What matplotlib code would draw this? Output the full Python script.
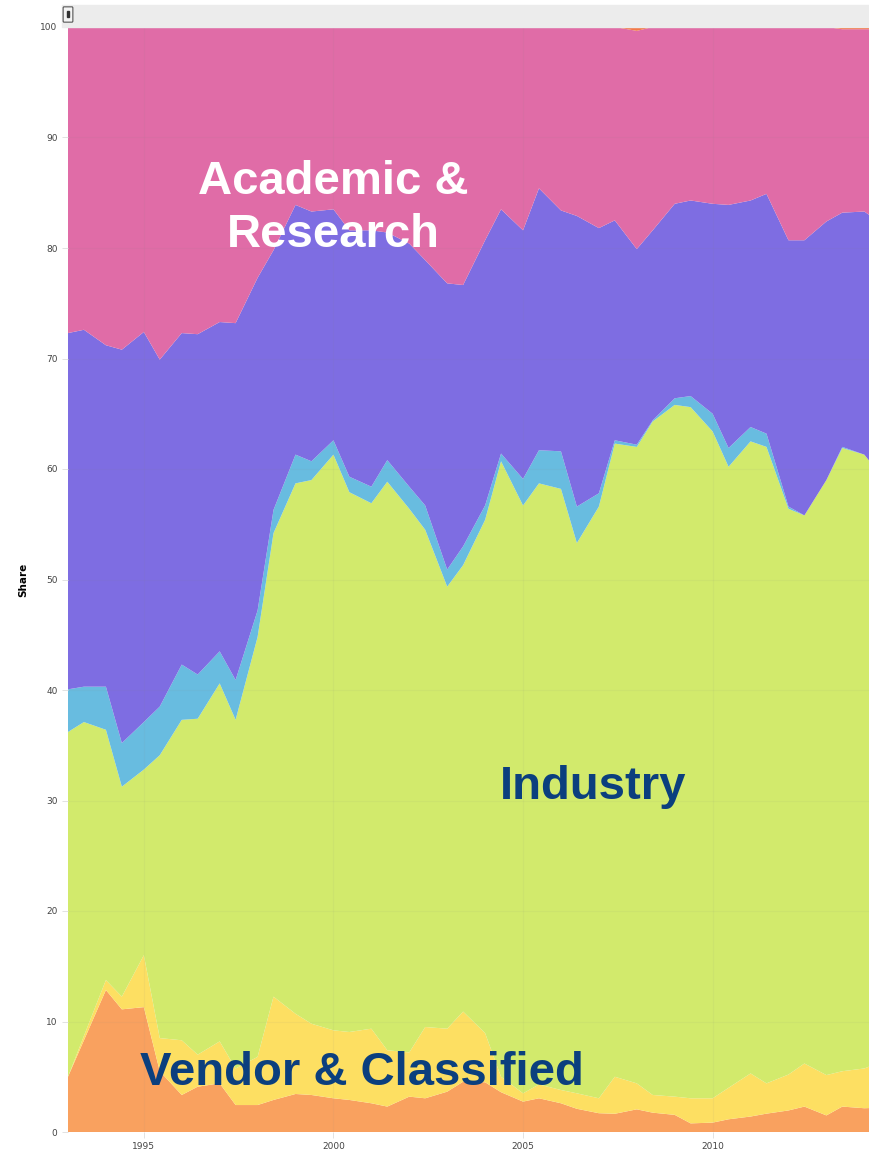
import matplotlib
matplotlib.use("Agg")
import matplotlib.pyplot as plt
from matplotlib.patches import Rectangle, FancyBboxPatch

# sample dates (Jan and Jun of every year)
dates = [1993.0, 1993.42, 1994.0, 1994.42, 1995.0, 1995.42, 1996.0, 1996.42,
         1997.0, 1997.42, 1998.0, 1998.42, 1999.0, 1999.42, 2000.0, 2000.42,
         2001.0, 2001.42, 2002.0, 2002.42, 2003.0, 2003.42, 2004.0, 2004.42,
         2005.0, 2005.42, 2006.0, 2006.42, 2007.0, 2007.42, 2008.0, 2008.42,
         2009.0, 2009.42, 2010.0, 2010.42, 2011.0, 2011.42, 2012.0, 2012.42,
         2013.0, 2013.42, 2014.0, 2014.42]

# cumulative upper edges (share, %)
vendor_top = [5.0, 8.3, 12.85, 11.1, 11.3, 5.5, 3.35, 4.1, 4.4, 2.44, 2.44, 2.9,
              3.44, 3.35, 3.05, 2.9, 2.6, 2.3, 3.2, 3.05, 3.65, 4.55, 4.5, 3.6,
              2.75, 3.05, 2.6, 2.1, 1.7, 1.65, 2.05, 1.75, 1.55, 0.78, 0.85, 1.15,
              1.4, 1.66, 1.95, 2.3, 1.5, 2.3, 2.15, 2.2]
classified_top = [5.0, 8.7, 13.75, 12.25, 16.0, 8.5, 8.3, 7.0, 8.2, 5.75, 6.8, 12.25,
                  10.7, 9.8, 9.2, 9.05, 9.35, 7.4, 7.2, 9.5, 9.35, 10.9, 8.95, 5.0,
                  3.5, 4.3, 3.8, 3.5, 3.05, 5.0, 4.4, 3.35, 3.2, 3.05, 3.05, 4.0,
                  5.3, 4.4, 5.2, 6.2, 5.15, 5.5, 5.75, 6.3]
industry_top = [36.2, 37.1, 36.4, 31.25, 32.8, 34.1, 37.3, 37.4, 40.6, 37.3, 44.8, 54.2,
                58.7, 59.0, 61.3, 57.9, 56.9, 58.85, 56.4, 54.5, 49.35, 51.3, 55.4, 60.7,
                56.7, 58.7, 58.2, 53.3, 56.6, 62.3, 62.0, 64.3, 65.8, 65.6, 63.4, 60.2,
                62.5, 62.0, 56.4, 55.8, 59.0, 61.9, 61.3, 59.5]
government_top = [40.06, 40.3, 40.3, 35.2, 37.1, 38.5, 42.3, 41.4, 43.5, 40.9, 47.2, 56.3,
                  61.3, 60.7, 62.6, 59.3, 58.4, 60.8, 58.4, 56.7, 50.9, 53.0, 56.7, 61.4,
                  59.1, 61.7, 61.6, 56.6, 57.8, 62.6, 62.2, 64.4, 66.4, 66.6, 65.0, 61.9,
                  63.8, 63.2, 56.6, 55.8, 59.0, 62.0, 61.3, 59.5]
other_top = [72.3, 72.6, 71.2, 70.8, 72.4, 69.9, 72.3, 72.2, 73.3, 73.2, 77.3, 79.8,
             83.9, 83.3, 83.5, 81.6, 81.6, 81.4, 80.4, 78.9, 76.8, 76.65, 80.7, 83.5,
             81.6, 85.4, 83.4, 82.9, 81.8, 82.5, 79.9, 81.6, 84.0, 84.3, 84.0, 83.9,
             84.3, 84.9, 80.7, 80.7, 82.4, 83.2, 83.3, 82.3]
unknown = [0, 0, 0, 0, 0, 0, 0, 0, 0, 0, 0, 0, 0, 0, 0, 0, 0, 0, 0, 0, 0, 0,
           0, 0, 0, 0, 0, 0, 0, 0, 0.35, 0, 0, 0, 0, 0, 0, 0, 0, 0, 0, 0.2, 0.2, 0.2]

edges = [vendor_top, classified_top, industry_top, government_top, other_top]
layers = [edges[0]] + [[b - a for a, b in zip(lo, hi)] for lo, hi in zip(edges[:-1], edges[1:])]
academic = [100 - p - u for p, u in zip(other_top, unknown)]
layers += [academic, unknown]

colors = ["#F9A15F", "#FDDF62", "#D2EA6C", "#68BCE0", "#7E6DE2", "#E06CA7", "#F27A4A"]

fig = plt.figure(figsize=(8.7, 11.53), dpi=100)
ax = fig.add_axes([68 / 870, 21 / 1153, 802 / 870, 1105 / 1153])

ax.stackplot(dates, *layers, colors=colors, linewidth=0)

ax.set_xlim(1993.0, 2014.15)
ax.set_ylim(0, 100)
ax.set_yticks(range(0, 101, 10))
ax.set_xticks([1995, 2000, 2005, 2010])
ax.tick_params(axis="both", labelsize=6.5, colors="#444444", length=4, width=0.6,
               color="#dddddd")
ax.set_ylabel("Share", fontsize=7.5, fontweight="bold", labelpad=9)
for s in ax.spines.values():
    s.set_visible(False)
ax.grid(True, color="#888888", alpha=0.07, linewidth=0.8)
ax.set_axisbelow(False)

# toolbar strip above the plot
fig.patches.append(Rectangle((62 / 870, 1 - 27 / 1153), 808 / 870, 22 / 1153,
                             transform=fig.transFigure, color="#ECECEC", zorder=0))
fig.patches.append(FancyBboxPatch((64 / 870, 1 - 21 / 1153), 8 / 870, 13 / 1153,
                                  boxstyle="round,pad=0.001", transform=fig.transFigure,
                                  facecolor="#f4f4f4", edgecolor="#555555", linewidth=0.8))
fig.patches.append(Rectangle((67 / 870, 1 - 17 / 1153), 2 / 870, 6 / 1153,
                             transform=fig.transFigure, color="#333333"))

font = dict(family=["Liberation Sans", "DejaVu Sans"], fontweight="bold", fontsize=34,
            ha="center", va="center")
ax.text(2000.0, 86.0, "Academic &", color="white", **font)
ax.text(2000.0, 81.2, "Research", color="white", **font)
ax.text(2006.85, 31.25, "Industry", color="#0B3F7E", **font)
ax.text(2000.75, 5.35, "Vendor & Classified", color="#0B3F7E", **font)

fig.savefig("out.png", dpi=100)
